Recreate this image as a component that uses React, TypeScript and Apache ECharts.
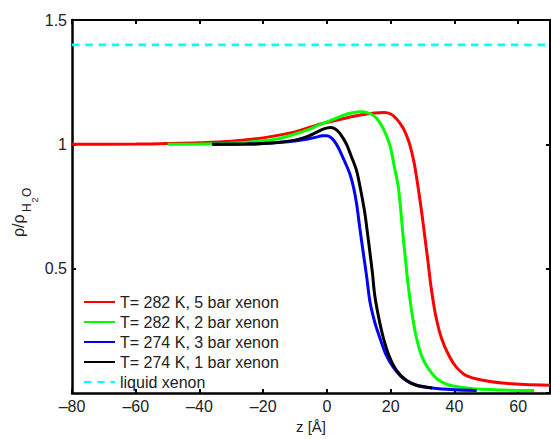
import React, { useEffect, useRef } from "react";
import * as echarts from "echarts";

const seriesNames = [
  "T= 282 K, 5 bar xenon",
  "T= 282 K, 2 bar xenon",
  "T= 274 K, 3 bar xenon",
  "T= 274 K, 1 bar xenon",
  "liquid xenon",
];
const seriesColors = ["#ff0000", "#00ff00", "#0000ff", "#000000", "#00ffff"];

const red282_5bar: [number, number][] = [
  [-80, 1.0], [-60, 1.001], [-50, 1.003], [-40, 1.006], [-30, 1.012], [-20, 1.026],
  [-10, 1.05], [-2, 1.082], [5, 1.103], [10, 1.117], [15, 1.126], [18, 1.128],
  [20, 1.122], [21.8, 1.103], [23, 1.083], [24, 1.063], [25, 1.035], [26, 0.999],
  [27.3, 0.93], [28.6, 0.828], [29.7, 0.73], [30.7, 0.63], [31.7, 0.53], [32.6, 0.433],
  [34, 0.32], [35.9, 0.222], [38.3, 0.15], [40.6, 0.104], [43.7, 0.07], [49, 0.051],
  [55, 0.04], [62, 0.034], [70, 0.031],
];
const green282_2bar: [number, number][] = [
  [-50, 1.0], [-40, 1.001], [-30, 1.004], [-21, 1.013], [-15, 1.023], [-10.6, 1.039],
  [-6, 1.058], [-2.4, 1.078], [2, 1.1], [5, 1.116], [8, 1.127], [11, 1.131],
  [13.5, 1.124], [15.6, 1.105], [17.6, 1.065], [19.7, 0.999], [21, 0.92], [22.4, 0.828],
  [23.2, 0.73], [23.9, 0.63], [24.7, 0.53], [25.5, 0.433], [26.7, 0.32], [28.1, 0.222],
  [30, 0.14], [32.3, 0.09], [35, 0.052], [38.6, 0.031], [45, 0.018], [55, 0.012],
  [65, 0.01],
];
const blue274_3bar: [number, number][] = [
  [-36, 1.0], [-25, 1.001], [-20, 1.003], [-15, 1.007], [-10, 1.013], [-6, 1.021],
  [-3, 1.03], [-1.5, 1.035], [0, 1.035], [1.5, 1.025], [3, 1.0], [4.1, 0.973],
  [5.6, 0.93], [7.2, 0.881], [8.3, 0.83], [9.3, 0.762], [10.3, 0.665], [11.4, 0.564],
  [12.5, 0.465], [13.5, 0.367], [15, 0.285], [16.6, 0.222], [18.5, 0.155], [20.8, 0.104],
  [24, 0.058], [28.1, 0.031], [33, 0.02], [40, 0.013], [47, 0.01],
];
const black274_1bar: [number, number][] = [
  [-36, 1.0], [-25, 1.001], [-20, 1.003], [-15, 1.008], [-10, 1.017], [-6, 1.032],
  [-3, 1.05], [-1, 1.062], [1, 1.068], [2.5, 1.063], [4, 1.045], [5.2, 1.022],
  [6.2, 0.999], [7.7, 0.95], [9.3, 0.894], [10.6, 0.815], [11.9, 0.723], [12.7, 0.645],
  [13.5, 0.564], [14.3, 0.48], [15, 0.393], [16.3, 0.3], [17.7, 0.222], [19.5, 0.15],
  [21.9, 0.09], [25, 0.05], [28.1, 0.031], [33, 0.02],
];
const liquidXenon: [number, number][] = [
  [-80, 1.4], [70, 1.4],
];

const xTicks = { min: -80, max: 70, interval: 20 };
const yTicks = { min: 0, max: 1.5, interval: 0.5 };

const FONT = "'Liberation Sans', Arial, Helvetica, sans-serif";

export default function App() {
  const ref = useRef<HTMLDivElement>(null);
  useEffect(() => {
    if (!ref.current) return;
    const chart = echarts.init(ref.current, null, { renderer: "svg" });
    const dataSets = [red282_5bar, green282_2bar, blue274_3bar, black274_1bar, liquidXenon];
    const axisLine = { show: true, onZero: false, lineStyle: { color: "#000", width: 2.5 } };
    const axisTick = { show: true, inside: true, length: 4, lineStyle: { color: "#000", width: 2 } };
    const labelStyle = { color: "#222", fontSize: 16, fontFamily: FONT };
    chart.setOption({
      animation: false,
      backgroundColor: "#fff",
      grid: { left: 72, right: 1, top: 20, bottom: 40, containLabel: false },
      legend: {
        left: 83,
        top: 294,
        orient: "vertical",
        padding: 0,
        itemGap: 4,
        itemWidth: 31,
        itemHeight: 14,
        data: seriesNames,
        itemStyle: { opacity: 0 },
        textStyle: { color: "#222", fontSize: 16, fontFamily: FONT, padding: [0, 0, 0, 0] },
        backgroundColor: "transparent",
      },
      xAxis: [
        {
          type: "value",
          ...xTicks,
          axisLine,
          axisTick,
          splitLine: { show: false },
          axisLabel: {
            ...labelStyle,
            margin: 5,
            showMaxLabel: false,
            formatter: (v: number) => String(v).replace("-", "\u2013"),
          },
          name: "z [Å]",
          nameLocation: "middle",
          nameGap: 26,
          nameTextStyle: { ...labelStyle, fontSize: 15 },
        },
        {
          type: "value",
          position: "top",
          ...xTicks,
          axisLine: { ...axisLine, lineStyle: { color: "#000", width: 2 } },
          axisTick,
          splitLine: { show: false },
          axisLabel: { show: false },
        },
      ],
      yAxis: [
        {
          type: "value",
          ...yTicks,
          axisLine,
          axisTick,
          splitLine: { show: false },
          axisLabel: { ...labelStyle, margin: 5, showMinLabel: false },
        },
        {
          type: "value",
          position: "right",
          ...yTicks,
          axisLine: { ...axisLine, lineStyle: { color: "#000", width: 2 } },
          axisTick,
          splitLine: { show: false },
          axisLabel: { show: false },
        },
      ],
      graphic: [
        {
          type: "group",
          x: 18,
          y: 237,
          rotation: Math.PI / 2,
          children: [
            { type: "text", x: 0, y: 0, style: { text: "ρ/ρ", fontSize: 16, fontFamily: FONT, fill: "#222", textAlign: "left", textVerticalAlign: "middle" } },
            { type: "text", x: 25, y: 9, style: { text: "H", fontSize: 12, fontFamily: FONT, fill: "#222", textAlign: "left", textVerticalAlign: "middle" } },
            { type: "text", x: 34.5, y: 17, style: { text: "2", fontSize: 9, fontFamily: FONT, fill: "#222", textAlign: "left", textVerticalAlign: "middle" } },
            { type: "text", x: 40, y: 9, style: { text: "O", fontSize: 12, fontFamily: FONT, fill: "#222", textAlign: "left", textVerticalAlign: "middle" } },
          ],
        },
      ],
      series: dataSets.map((d, i) => ({
        name: seriesNames[i],
        type: "line",
        data: d,
        xAxisIndex: 0,
        yAxisIndex: 0,
        showSymbol: false,
        symbol: "none",
        smooth: i === 4 ? false : 0.3,
        color: seriesColors[i],
        lineStyle: {
          color: seriesColors[i],
          width: i === 4 ? 2.8 : 3,
          type: i === 4 ? [7.5, 5.8] : "solid",
        },
        clip: true,
        z: 2 + i,
      })),
    });
    return () => chart.dispose();
  }, []);
  return <div ref={ref} style={{ width: 551, height: 439, position: "absolute", left: 0, top: 0 }} />;
}
